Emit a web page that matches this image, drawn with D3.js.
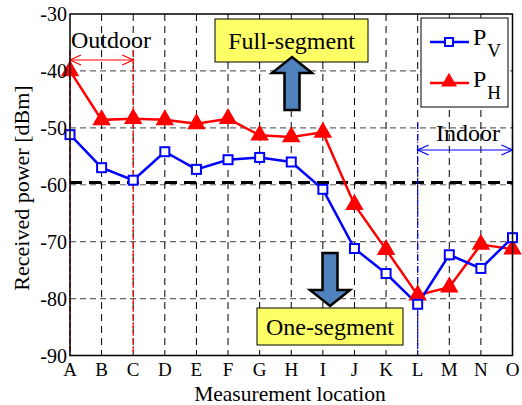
<!DOCTYPE html>
<html><head><meta charset="utf-8">
<script src="https://cdn.jsdelivr.net/npm/d3@7"></script>
<style>body{margin:0;background:#fff}svg{display:block}text{font-family:"Liberation Serif","Times New Roman",serif;fill:#000}</style>
</head><body>
<svg id="c" width="522" height="405"></svg>
<script>
const locations = ["A","B","C","D","E","F","G","H","I","J","K","L","M","N","O"];
const pV = [-51.2,-57.0,-59.2,-54.2,-57.3,-55.6,-55.2,-56.0,-60.8,-71.2,-75.6,-81.0,-72.3,-74.7,-69.3];
const pH = [-40.0,-48.6,-48.4,-48.6,-49.3,-48.4,-51.3,-51.6,-50.8,-63.5,-71.4,-79.4,-78.0,-70.5,-71.3];
const yTicks = [-30,-40,-50,-60,-70,-80,-90];
const threshold = -59.6;

const svg = d3.select("#c");
const L = 70, R = 512.5, T = 14, B = 355.5;
const x = d3.scalePoint().domain(locations).range([L, R]);
const y = d3.scaleLinear().domain([-90, -30]).range([B, T]);

// grid
const g = svg.append("g");
g.selectAll("line.h").data(yTicks.slice(1, -1)).join("line")
  .attr("x1", L).attr("x2", R).attr("y1", d => y(d)).attr("y2", d => y(d))
  .attr("stroke", "#666").attr("stroke-width", 1.2).attr("stroke-dasharray", "6,4");
g.selectAll("line.v").data(locations.slice(1, -1)).join("line")
  .attr("x1", d => x(d)).attr("x2", d => x(d)).attr("y1", T).attr("y2", B)
  .attr("stroke", "#000").attr("stroke-width", 1).attr("stroke-dasharray", "7,5");

// threshold
svg.append("line").attr("x1", L).attr("x2", R).attr("y1", y(threshold)).attr("y2", y(threshold))
  .attr("stroke", "#000").attr("stroke-width", 3).attr("stroke-dasharray", "12,7");

// region markers
const reg = svg.append("g");
reg.selectAll("line.o").data(["A","C"]).join("line")
  .attr("x1", d => x(d)).attr("x2", d => x(d)).attr("y1", 50).attr("y2", B)
  .attr("stroke", "#f00").attr("stroke-width", 1.2).attr("stroke-dasharray", "6,2");
reg.selectAll("line.i").data(["L","O"]).join("line")
  .attr("x1", d => x(d)).attr("x2", d => x(d)).attr("y1", 123).attr("y2", B)
  .attr("stroke", "#00f").attr("stroke-width", 1.2).attr("stroke-dasharray", "6,2,1,2");

function dblArrow(x1, x2, yy, col) {
  const a = reg.append("g").attr("stroke", col).attr("fill", "none").attr("stroke-width", 1.2);
  a.append("line").attr("x1", x1).attr("x2", x2).attr("y1", yy).attr("y2", yy);
  a.append("path").attr("d", `M${x1+11},${yy-5}L${x1},${yy}L${x1+11},${yy+5}`);
  a.append("path").attr("d", `M${x2-11},${yy-5}L${x2},${yy}L${x2-11},${yy+5}`);
}
dblArrow(x("A"), x("C"), 60, "#f00");
dblArrow(x("L"), x("O"), 150, "#00f");
svg.append("text").attr("x", 111).attr("y", 48).attr("text-anchor", "middle").attr("font-size", 24).text("Outdoor");
svg.append("text").attr("x", 468).attr("y", 141).attr("text-anchor", "middle").attr("font-size", 24).text("Indoor");

// series
const line = d3.line().x((d, i) => x(locations[i])).y(d => y(d));
svg.append("path").datum(pH).attr("d", line).attr("fill", "none").attr("stroke", "#f00").attr("stroke-width", 2.5);
svg.append("path").datum(pV).attr("d", line).attr("fill", "none").attr("stroke", "#00f").attr("stroke-width", 2.5);
const tri = d3.symbol().type(d3.symbolTriangle).size(110);
svg.selectAll("path.th").data(pH).join("path")
  .attr("transform", (d, i) => `translate(${x(locations[i])},${y(d)})`)
  .attr("d", tri).attr("fill", "#f00").attr("stroke", "#f00").attr("stroke-width", 1.5);
svg.selectAll("rect.sv").data(pV).join("rect")
  .attr("x", (d, i) => x(locations[i]) - 4.5).attr("y", d => y(d) - 4.5)
  .attr("width", 9).attr("height", 9).attr("fill", "#fff").attr("stroke", "#00f").attr("stroke-width", 2);

// annotation boxes
function box(x0, y0, w, h, txt) {
  svg.append("rect").attr("x", x0).attr("y", y0).attr("width", w).attr("height", h)
    .attr("fill", "#ffff66").attr("stroke", "#000").attr("stroke-width", 1);
  svg.append("text").attr("x", x0 + w / 2).attr("y", y0 + h / 2 + 8).attr("text-anchor", "middle")
    .attr("font-size", 24).text(txt);
}
box(215, 19, 153, 43, "Full-segment");
box(257, 308, 146, 37, "One-segment");

function bigArrow(cx, tip, base, up) {
  const s = up ? 1 : -1;
  const head = tip + s * 16;
  const p = `M${cx},${tip}L${cx+20},${head}L${cx+7.5},${head}L${cx+7.5},${base}L${cx-7.5},${base}L${cx-7.5},${head}L${cx-20},${head}Z`;
  svg.append("path").attr("d", p).attr("fill", "#4f81bd").attr("stroke", "#000").attr("stroke-width", 2.5).attr("stroke-linejoin", "miter");
}
bigArrow(292, 57, 110, true);
bigArrow(330, 306, 253, false);

// frame
svg.append("rect").attr("x", L).attr("y", T).attr("width", R - L).attr("height", B - T)
  .attr("fill", "none").attr("stroke", "#000").attr("stroke-width", 1.5);

// axes
ax = svg.append("g").attr("font-size", 20);
ax.selectAll("text.y").data(yTicks).join("text")
  .attr("x", 67).attr("y", d => y(d) + 7).attr("text-anchor", "end").text(d => d);
ax.selectAll("text.x").data(locations).join("text")
  .attr("x", d => x(d)).attr("y", 376).attr("font-size", 19).attr("text-anchor", "middle").text(d => d);
svg.append("text").attr("x", 290).attr("y", 401).attr("text-anchor", "middle").attr("font-size", 21.5).text("Measurement location");
svg.append("text").attr("transform", "translate(29,188) rotate(-90)").attr("text-anchor", "middle").attr("font-size", 22).text("Received power [dBm]");

// legend
const lg = svg.append("g");
lg.append("rect").attr("x", 421).attr("y", 18).attr("width", 87).attr("height", 89).attr("fill", "#fff").attr("stroke", "#000").attr("stroke-width", 1);
lg.append("line").attr("x1", 430).attr("x2", 469).attr("y1", 42).attr("y2", 42).attr("stroke", "#00f").attr("stroke-width", 2.5);
lg.append("rect").attr("x", 445).attr("y", 38).attr("width", 8).attr("height", 8).attr("fill", "#fff").attr("stroke", "#00f").attr("stroke-width", 2);
lg.append("line").attr("x1", 430).attr("x2", 469).attr("y1", 83).attr("y2", 83).attr("stroke", "#f00").attr("stroke-width", 2.5);
lg.append("path").attr("transform", "translate(449,82)").attr("d", tri).attr("fill", "#f00");
const t1 = lg.append("text").attr("x", 473).attr("y", 45).attr("font-size", 24);
t1.append("tspan").text("P");
t1.append("tspan").attr("font-size", 19).attr("dx", 1).attr("dy", 12).text("V");
const t2 = lg.append("text").attr("x", 473).attr("y", 87).attr("font-size", 24);
t2.append("tspan").text("P");
t2.append("tspan").attr("font-size", 19).attr("dx", 1).attr("dy", 12).text("H");
</script>
</body></html>
